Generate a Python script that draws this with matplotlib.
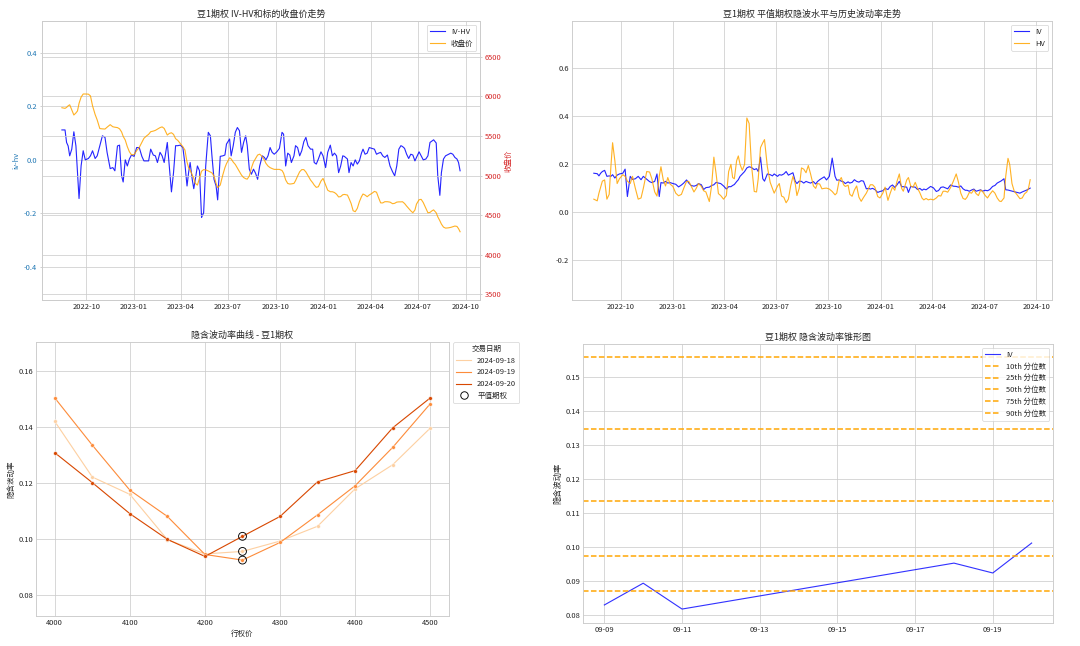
import matplotlib
matplotlib.use("Agg")
import matplotlib.dates as mdates
import matplotlib.pyplot as plt
import pandas as pd
from matplotlib.lines import Line2D

plt.rcParams.update({
    "axes.edgecolor": "0.8",
    "axes.linewidth": 1.25,
    "axes.grid": True,
    "axes.axisbelow": True,
    "grid.color": "0.8",
    "grid.linewidth": 1.0,
    "xtick.major.size": 0,
    "ytick.major.size": 0,
    "text.color": "0.15",
    "axes.labelcolor": "0.15",
    "xtick.color": "0.15",
    "ytick.color": "0.15",
})
plt.rcParams["font.family"] = ["Noto Sans CJK SC", "DejaVu Sans"]
plt.rcParams["axes.unicode_minus"] = False

# ---- 时间序列 (豆1期权) ----
dates = [
    "2022-08-15", "2022-08-21", "2022-08-24", "2022-08-27", "2022-08-30", "2022-09-03", "2022-09-07",
    "2022-09-11", "2022-09-14", "2022-09-17", "2022-09-21", "2022-09-25", "2022-09-29", "2022-10-05",
    "2022-10-09", "2022-10-13", "2022-10-18", "2022-10-22", "2022-10-27", "2022-11-01", "2022-11-06",
    "2022-11-10", "2022-11-16", "2022-11-21", "2022-11-25", "2022-11-30", "2022-12-04", "2022-12-08",
    "2022-12-11", "2022-12-15", "2022-12-19", "2022-12-23", "2022-12-27",
    "2023-01-01", "2023-01-06", "2023-01-11", "2023-01-16", "2023-01-20", "2023-01-25", "2023-01-29",
    "2023-02-02", "2023-02-07", "2023-02-11", "2023-02-15", "2023-02-20", "2023-02-24", "2023-02-28",
    "2023-03-06", "2023-03-10", "2023-03-14", "2023-03-18", "2023-03-22", "2023-03-26", "2023-03-31",
    "2023-04-05", "2023-04-09", "2023-04-13", "2023-04-16", "2023-04-19", "2023-04-23", "2023-04-26",
    "2023-04-29", "2023-05-03", "2023-05-07", "2023-05-11", "2023-05-15", "2023-05-19", "2023-05-24",
    "2023-05-28", "2023-05-31", "2023-06-04", "2023-06-08", "2023-06-11", "2023-06-16", "2023-06-21",
    "2023-06-25", "2023-06-28", "2023-07-04", "2023-07-07", "2023-07-11", "2023-07-15", "2023-07-19",
    "2023-07-23", "2023-07-27", "2023-07-31", "2023-08-04", "2023-08-07", "2023-08-11", "2023-08-15",
    "2023-08-19", "2023-08-23", "2023-08-27", "2023-08-31", "2023-09-05", "2023-09-09", "2023-09-12",
    "2023-09-16", "2023-09-20", "2023-09-24", "2023-09-28", "2023-10-03", "2023-10-08", "2023-10-13",
    "2023-10-16", "2023-10-20", "2023-10-24", "2023-10-28", "2023-10-31", "2023-11-05", "2023-11-08",
    "2023-11-12", "2023-11-16", "2023-11-20", "2023-11-24", "2023-11-28", "2023-12-02", "2023-12-07",
    "2023-12-11", "2023-12-14", "2023-12-18", "2023-12-22", "2023-12-27", "2023-12-31",
    "2024-01-05", "2024-01-09", "2024-01-14", "2024-01-18", "2024-01-22", "2024-01-26", "2024-01-30",
    "2024-02-03", "2024-02-07", "2024-02-10", "2024-02-16", "2024-02-19", "2024-02-23", "2024-02-27",
    "2024-03-02", "2024-03-06", "2024-03-10", "2024-03-14", "2024-03-17", "2024-03-21", "2024-03-25",
    "2024-03-29", "2024-04-03", "2024-04-08", "2024-04-12", "2024-04-16", "2024-04-20", "2024-04-24",
    "2024-04-28", "2024-05-03", "2024-05-08", "2024-05-13", "2024-05-17", "2024-05-21", "2024-05-25",
    "2024-05-29", "2024-06-01", "2024-06-05", "2024-06-09", "2024-06-13", "2024-06-17", "2024-06-21",
    "2024-06-25", "2024-06-28", "2024-07-03", "2024-07-07", "2024-07-11", "2024-07-16", "2024-07-20",
    "2024-07-24", "2024-07-28", "2024-07-31", "2024-08-05", "2024-08-08", "2024-08-12", "2024-08-15",
    "2024-08-19", "2024-08-23", "2024-08-28", "2024-09-02", "2024-09-06", "2024-09-10", "2024-09-14",
    "2024-09-17", "2024-09-20",
]

iv_hv = [
    0.112, 0.112, 0.065, 0.052, 0.015, 0.04, 0.105, 0.052, -0.047, -0.145, -0.022, 0.034, 0.0, 0.005,
    0.015, 0.034, 0.005, 0.015, 0.052, 0.09, 0.084, 0.028, -0.033, -0.029, -0.041, 0.052, 0.055, -0.06,
    -0.083, 0.0, -0.023, 0.003, 0.018,
    0.013, 0.046, 0.046, 0.013, -0.004, -0.004, -0.004, 0.04, 0.018, 0.015, -0.01, 0.028, 0.015, -0.01,
    0.065, -0.029, -0.12, -0.048, 0.053, 0.053, 0.055, 0.046, -0.016, -0.098, -0.048, -0.01, -0.073,
    -0.108, -0.073, -0.023, -0.041, -0.216, -0.198, -0.023, 0.103, 0.09, 0.015, -0.073, -0.098, -0.15,
    0.013, 0.015, 0.018, 0.059, 0.078, 0.015, 0.053, 0.103, 0.121, 0.109, 0.028, 0.065, 0.09, 0.053,
    -0.035, -0.054, -0.035, -0.05, -0.073, -0.023, 0.015, 0.009, 0.0, 0.015, 0.046, 0.028, 0.021, 0.03,
    0.043, 0.103, 0.096, -0.023, 0.025, 0.018, -0.01, 0.015, 0.053, 0.046, 0.015, 0.034, 0.068, 0.084,
    0.053, 0.04, 0.04, -0.01, -0.016, 0.003, 0.03, 0.015,
    -0.029, 0.028, 0.055, 0.015, 0.025, 0.015, -0.048, -0.023, 0.015, 0.013, 0.003, -0.048, -0.01,
    -0.023, 0.0, -0.016, -0.004, 0.025, 0.04, 0.021, 0.025, 0.046, 0.043, 0.04, 0.021, 0.025, 0.028,
    0.015, 0.009, 0.018, -0.023, -0.045, -0.06, -0.023, 0.04, 0.053, 0.05, 0.043, 0.021, 0.005, 0.021,
    0.018, -0.004, 0.009, 0.03, 0.015, 0.0, 0.003, 0.015, 0.065, 0.071, 0.075, 0.063, -0.06, -0.133,
    -0.048, 0.003, 0.015, 0.02, 0.025, 0.021, 0.009, 0.003, -0.01, -0.041,
]

close_price = [
    5856, 5848, 5860, 5880, 5893, 5827, 5764, 5790, 5815, 5911, 5990, 6029, 6029, 6027, 6005, 5880,
    5770, 5701, 5593, 5589, 5587, 5610, 5642, 5616, 5610, 5605, 5590, 5550, 5495, 5448, 5364, 5300, 5262,
    5265, 5315, 5355, 5420, 5470, 5500, 5520, 5553, 5561, 5570, 5585, 5605, 5614, 5595, 5511, 5532,
    5540, 5520, 5465, 5445, 5405, 5364, 5322, 5170, 5100, 5068, 5010, 4964, 4901, 4880, 4970, 5055,
    5075, 5072, 5058, 5045, 5034, 4994, 4901, 4848, 4880, 5010, 5100, 5150, 5224, 5210, 5170, 5140,
    5095, 5048, 5005, 4975, 4960, 4955, 4995, 5095, 5170, 5215, 5259, 5270, 5238, 5196, 5154, 5120,
    5100, 5088, 5078, 5078, 5078, 5064, 5030, 4945, 4900, 4893, 4895, 4901, 4935, 4994, 5048, 5075,
    5075, 5045, 5000, 4943, 4910, 4880, 4851, 4859, 4930, 4964,
    4880, 4815, 4796, 4796, 4786, 4765, 4730, 4735, 4758, 4762, 4754, 4712, 4649, 4556, 4544, 4586,
    4670, 4733, 4767, 4754, 4733, 4755, 4775, 4800, 4790, 4720, 4655, 4655, 4670, 4670, 4665, 4645,
    4650, 4665, 4668, 4668, 4670, 4648, 4615, 4585, 4555, 4531, 4565, 4640, 4695, 4700, 4660, 4590,
    4531, 4535, 4556, 4567, 4530, 4480, 4430, 4388, 4350, 4337, 4340, 4346, 4355, 4363, 4358, 4330, 4291,
]

atm_iv = [
    0.163, 0.161, 0.152, 0.163, 0.17, 0.175, 0.15, 0.152, 0.15, 0.157, 0.143, 0.155, 0.16, 0.163, 0.18,
    0.066, 0.15, 0.137, 0.14, 0.15, 0.136, 0.15, 0.138, 0.128, 0.124, 0.129, 0.16, 0.066, 0.124, 0.122,
    0.129, 0.122, 0.124,
    0.12, 0.117, 0.106, 0.114, 0.122, 0.135, 0.122, 0.112, 0.109, 0.112, 0.12, 0.115, 0.095, 0.103,
    0.105, 0.112, 0.115, 0.125, 0.122, 0.12, 0.11, 0.097, 0.107, 0.107, 0.112, 0.116, 0.128, 0.136,
    0.15, 0.16, 0.17, 0.185, 0.19, 0.187, 0.178, 0.182, 0.17, 0.23, 0.14, 0.13, 0.16, 0.157, 0.152,
    0.16, 0.15, 0.157, 0.155, 0.16, 0.17, 0.155, 0.16, 0.165, 0.13, 0.12, 0.13, 0.129, 0.122, 0.129,
    0.125, 0.122, 0.128, 0.118, 0.128, 0.136, 0.142, 0.148, 0.135, 0.15, 0.226, 0.15, 0.134, 0.135,
    0.13, 0.127, 0.12, 0.127, 0.122, 0.125, 0.136, 0.129, 0.126, 0.132, 0.13, 0.098, 0.1, 0.097, 0.1,
    0.095, 0.083, 0.087,
    0.09, 0.1, 0.095, 0.108, 0.114, 0.104, 0.115, 0.129, 0.107, 0.107, 0.105, 0.083, 0.108, 0.106,
    0.105, 0.095, 0.1, 0.092, 0.097, 0.094, 0.101, 0.108, 0.102, 0.087, 0.091, 0.104, 0.106, 0.102,
    0.098, 0.114, 0.109, 0.108, 0.105, 0.11, 0.098, 0.092, 0.092, 0.088, 0.093, 0.097, 0.088, 0.091,
    0.094, 0.088, 0.092, 0.09, 0.095, 0.108, 0.112, 0.122, 0.127, 0.131, 0.14, 0.094, 0.093, 0.091,
    0.088, 0.086, 0.083, 0.08, 0.085, 0.089, 0.093, 0.097, 0.101,
]

hist_vol = [
    0.055, 0.048, 0.08, 0.105, 0.13, 0.135, 0.055, 0.075, 0.19, 0.29, 0.215, 0.12, 0.14, 0.157, 0.15,
    0.13, 0.12, 0.15, 0.1, 0.055, 0.06, 0.1, 0.17, 0.168, 0.14, 0.085, 0.068, 0.15, 0.19, 0.136, 0.11,
    0.145, 0.118,
    0.108, 0.08, 0.069, 0.075, 0.1, 0.129, 0.129, 0.11, 0.085, 0.1, 0.12, 0.108, 0.09, 0.085, 0.045,
    0.11, 0.23, 0.16, 0.078, 0.07, 0.055, 0.07, 0.17, 0.2, 0.145, 0.14, 0.215, 0.235, 0.2, 0.175, 0.2,
    0.393, 0.37, 0.2, 0.087, 0.085, 0.14, 0.27, 0.29, 0.303, 0.19, 0.125, 0.1, 0.08, 0.11, 0.12, 0.068,
    0.063, 0.04, 0.055, 0.11, 0.15, 0.12, 0.07, 0.1, 0.185, 0.18, 0.165, 0.195, 0.16, 0.11, 0.1, 0.12,
    0.118, 0.098, 0.1, 0.101, 0.097, 0.087, 0.073, 0.08, 0.13, 0.145, 0.115, 0.108, 0.113, 0.075, 0.067,
    0.093, 0.11, 0.063, 0.046, 0.062, 0.08, 0.1, 0.115, 0.115, 0.105, 0.066, 0.06,
    0.08, 0.105, 0.05, 0.08, 0.106, 0.092, 0.13, 0.16, 0.1, 0.088, 0.135, 0.145, 0.11, 0.105, 0.125,
    0.1, 0.082, 0.059, 0.052, 0.058, 0.052, 0.055, 0.052, 0.06, 0.07, 0.068, 0.088, 0.088, 0.084, 0.103,
    0.13, 0.16, 0.125, 0.08, 0.058, 0.054, 0.063, 0.083, 0.08, 0.094, 0.078, 0.07, 0.093, 0.088, 0.07,
    0.06, 0.075, 0.09, 0.08, 0.06, 0.047, 0.045, 0.06, 0.15, 0.225, 0.2, 0.12, 0.088, 0.073, 0.057,
    0.06, 0.077, 0.085, 0.1, 0.136,
]

# ---- 隐含波动率曲线 ----
strikes = [4000, 4050, 4100, 4150, 4200, 4250, 4300, 4350, 4400, 4450, 4500]
smile_dates = ["2024-09-18", "2024-09-19", "2024-09-20"]
smile_iv = {
    "2024-09-18": [0.1421, 0.1222, 0.1160, 0.0998, 0.0947, 0.0956, 0.0993, 0.1046, 0.1180, 0.1266, 0.1397],
    "2024-09-19": [0.1505, 0.1336, 0.1175, 0.1081, 0.0945, 0.0925, 0.0988, 0.1087, 0.1191, 0.1328, 0.1484],
    "2024-09-20": [0.1309, 0.1202, 0.1091, 0.0999, 0.0938, 0.1010, 0.1081, 0.1205, 0.1245, 0.1398, 0.1505],
}
atm_strike = 4250

# ---- 隐含波动率锥形图 ----
cone_dates = ["2024-09-09", "2024-09-10", "2024-09-11", "2024-09-18", "2024-09-19", "2024-09-20"]
cone_iv = [0.0829, 0.0893, 0.0817, 0.0952, 0.0923, 0.1011]
quantile_names = ["10th", "25th", "50th", "75th", "90th"]
quantile_values = [0.0871, 0.0974, 0.1134, 0.1345, 0.1557]

dt = pd.to_datetime(dates)
W, H = 1080, 646
fig = plt.figure(figsize=(W / 54, H / 54), dpi=54)


def rect(l, t, r, b):
    return [l / W, 1 - b / H, (r - l) / W, (b - t) / H]


# 图1: IV-HV 和收盘价
ax1 = fig.add_axes(rect(42, 21, 480, 300))
l1 = ax1.plot(dt, iv_hv, color="blue", alpha=0.85, lw=1.5, label="IV-HV")
ax1.set_ylabel("iv-hv", color="tab:blue")
ax1.tick_params(axis="y", labelcolor="tab:blue", length=3, color="0.7")
ax1.set_ylim(-0.525, 0.52)
ax1.set_yticks([-0.4, -0.2, 0.0, 0.2, 0.4])
ax1.xaxis.set_major_locator(mdates.MonthLocator(bymonth=[1, 4, 7, 10]))
ax1.xaxis.set_major_formatter(mdates.DateFormatter("%Y-%m"))
ax1b = ax1.twinx()
l2 = ax1b.plot(dt, close_price, color="orange", alpha=0.85, lw=1.5, label="收盘价")
ax1b.set_ylabel("收盘价", color="tab:red")
ax1b.tick_params(axis="y", labelcolor="tab:red", length=3, color="0.7")
ax1b.set_ylim(3430, 6950)
ax1b.set_yticks([3500, 4000, 4500, 5000, 5500, 6000, 6500])
for s in ax1b.spines.values():
    s.set_color("0.8")
ax1.set_title("豆1期权 IV-HV和标的收盘价走势")
lines = l1 + l2
ax1b.legend(lines, [l.get_label() for l in lines], loc="upper right")

# 图2: 平值IV与HV
ax2 = fig.add_axes(rect(572, 21, 1052, 300))
ax2.plot(dt, atm_iv, color="blue", alpha=0.85, lw=1.5, label="IV")
ax2.plot(dt, hist_vol, color="orange", alpha=0.85, lw=1.5, label="HV")
ax2.set_ylim(-0.365, 0.797)
ax2.xaxis.set_major_locator(mdates.MonthLocator(bymonth=[1, 4, 7, 10]))
ax2.xaxis.set_major_formatter(mdates.DateFormatter("%Y-%m"))
ax2.set_title("豆1期权 平值期权隐波水平与历史波动率走势")
ax2.legend(loc="upper right")

# 图3: 波动率微笑
ax3 = fig.add_axes(rect(36, 342, 449, 616))
cmap = plt.get_cmap("Oranges")
smile_colors = [cmap(0.25), cmap(0.5), cmap(0.75)]
handles = []
for d, c in zip(smile_dates, smile_colors):
    ax3.plot(strikes, smile_iv[d], color=c, lw=1.5, marker="o", ms=5,
             mec="white", mew=0.6)
    handles.append(Line2D([], [], color=c, lw=1.5, label=d))
for d in smile_dates:
    ax3.scatter([atm_strike], [smile_iv[d][strikes.index(atm_strike)]], s=110,
                facecolors="none", edgecolors="black", linewidths=1.2, zorder=5)
handles.append(Line2D([], [], ls="none", marker="o", ms=10, mfc="none",
                      mec="black", mew=1.2, label="平值期权"))
ax3.set_ylim(0.0725, 0.1705)
ax3.set_xticks([4000, 4100, 4200, 4300, 4400, 4500])
ax3.set_yticks([0.08, 0.10, 0.12, 0.14, 0.16])
ax3.set_title("隐含波动率曲线 - 豆1期权")
ax3.set_xlabel("行权价")
ax3.set_ylabel("隐含波动率")
ax3.legend(handles=handles, title="交易日期", loc="upper left",
           bbox_to_anchor=(1.01, 1), borderaxespad=0)

# 图4: 波动率锥
ax4 = fig.add_axes(rect(583, 344, 1053, 623))
ax4.plot(pd.to_datetime(cone_dates), cone_iv, color="blue", alpha=0.8, lw=1.5, label="IV")
for name, q in zip(quantile_names, quantile_values):
    ax4.axhline(q, color="orange", ls="--", lw=2, label=f"{name} 分位数")
ax4.set_ylim(0.0776, 0.1596)
ax4.set_yticks([0.08, 0.09, 0.10, 0.11, 0.12, 0.13, 0.14, 0.15])
ax4.xaxis.set_major_locator(mdates.DayLocator(bymonthday=[9, 11, 13, 15, 17, 19]))
ax4.xaxis.set_major_formatter(mdates.DateFormatter("%m-%d"))
ax4.set_title("豆1期权 隐含波动率锥形图")
ax4.set_ylabel("隐含波动率", fontsize=11)
ax4.legend(loc="upper right")

fig.savefig("out.png", dpi=54)
